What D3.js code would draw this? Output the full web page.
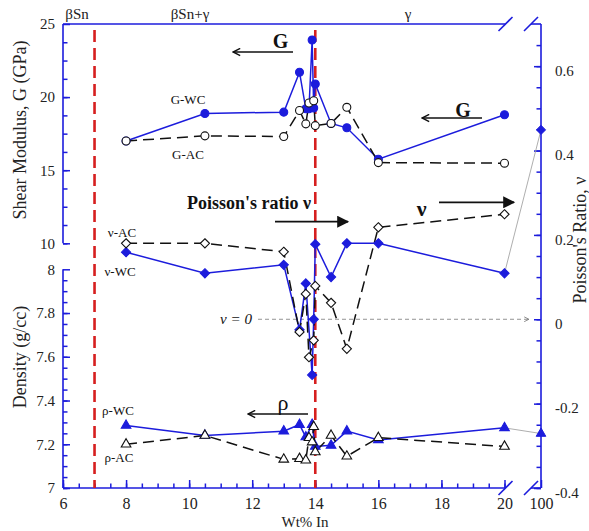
<!DOCTYPE html>
<meta charset="utf-8">
<script src="https://d3js.org/d3.v7.min.js"></script>
<head>
    <title>G, Poisson's ratio and density vs Wt% In</title>
    <style>
        body { margin: 0; background: #fff; }
    </style>
</head>
<body>
<div id="chart"></div>
<script>
    // ---- data ----
    // shear modulus (GPa)
    const gWcComp = [8, 10.5, 13, 13.5, 13.7, 13.8, 13.9, 13.95, 14, 14.5, 15, 16, 20];
    const gWcVal  = [17.0, 18.88, 18.97, 21.7, 19.2, 19.2, 23.9, 19.25, 20.9, 18.2, 17.9, 15.75, 18.79];
    const gAcComp = [8, 10.5, 13, 13.5, 13.7, 13.8, 13.95, 14, 14.5, 15, 16, 20];
    const gAcVal  = [17.0, 17.35, 17.3, 19.08, 18.17, 19.6, 19.75, 18.05, 18.2, 19.3, 15.52, 15.48];

    // poisson's ratio
    const nuWcComp = [8, 10.5, 13, 13.5, 13.7, 13.9, 13.95, 14, 14.5, 15, 16, 20];
    const nuWcVal  = [0.159, 0.109, 0.129, -0.025, 0.085, -0.132, 0.0, 0.178, 0.1, 0.18, 0.18, 0.109];
    const nuAcComp = [8, 10.5, 13, 13.5, 13.7, 13.8, 13.95, 14, 14.5, 15, 16, 20];
    const nuAcVal  = [0.18, 0.18, 0.16, -0.03, 0.06, -0.09, -0.05, 0.079, 0.039, -0.07, 0.218, 0.249];

    // density (g/cc)
    const rhoWcComp = [8, 10.5, 13, 13.5, 13.7, 13.9, 14, 14.5, 15, 16, 20];
    const rhoWcVal  = [7.286, 7.24, 7.26, 7.29, 7.233, 7.29, 7.19, 7.195, 7.26, 7.22, 7.275];
    const rhoAcComp = [8, 10.5, 13, 13.5, 13.7, 13.8, 13.9, 13.95, 14, 14.5, 15, 16, 20];
    const rhoAcVal  = [7.2, 7.24, 7.131, 7.134, 7.127, 7.23, 7.21, 7.28, 7.165, 7.24, 7.145, 7.23, 7.19];

    // pure In (100 wt%)
    const pureComp = [20, 100];
    const pureNu  = [0.109, 0.449];
    const pureRho = [7.275, 7.249];

    // phase boundaries and labels
    const phaseBounds = [7, 14];
    const phaseLabels = ["βSn", "βSn+γ", "γ"];

    // ticks
    const xTicks = [6, 8, 10, 12, 14, 16, 18, 20, 100];
    const xMinor = d3.range(6, 20.01, 0.5);
    const gTicks = [10, 15, 20, 25];
    const gMinor = d3.range(10, 25, 1.25);
    const rhoTicks = [7, 7.2, 7.4, 7.6, 7.8, 8];
    const rhoMinor = d3.range(7, 8, 0.05);
    const nuTicks = [-0.4, -0.2, 0, 0.2, 0.4, 0.6];
    const nuMinor = d3.range(-0.4, 0.7, 0.05);

    // ---- layout ----
    const width = 589, height = 531;
    const pl = 63, pr = 541, pt = 24, pb = 488;
    const blue = "#1c1cdc", red = "#d61f1f";
    const serif = "'Liberation Serif', 'Times New Roman', Tinos, 'DejaVu Serif', serif";

    const svg = d3.select("#chart")
        .append("svg")
        .attr("width", width)
        .attr("height", height)
        .attr("font-family", serif);

    const x = d3.scaleLinear().domain([6, 20, 100]).range([pl, 504.5, pr]);
    const yG = d3.scaleLinear().domain([10, 25]).range([243.3, pt]);
    const yRho = d3.scaleLinear().domain([7, 8]).range([pb, 269.3]);
    const yNu = d3.scaleLinear().domain([-0.4, 0.7]).range([pb, pt]);

    const defs = svg.append("defs");
    defs.append("marker").attr("id", "open")
        .attr("viewBox", "0 0 10 10").attr("refX", 9).attr("refY", 5)
        .attr("markerWidth", 9).attr("markerHeight", 9).attr("orient", "auto")
        .attr("markerUnits", "userSpaceOnUse")
        .append("path").attr("d", "M1,1 L9,5 L1,9").attr("fill", "none")
        .attr("stroke", "#111").attr("stroke-width", 1.6);
    defs.append("marker").attr("id", "solid")
        .attr("viewBox", "0 0 10 10").attr("refX", 9).attr("refY", 5)
        .attr("markerWidth", 14).attr("markerHeight", 12).attr("orient", "auto")
        .attr("markerUnits", "userSpaceOnUse")
        .append("path").attr("d", "M0,0 L10,5 L0,10 Z").attr("fill", "#111");
    defs.append("marker").attr("id", "small")
        .attr("viewBox", "0 0 10 10").attr("refX", 9).attr("refY", 5)
        .attr("markerWidth", 7).attr("markerHeight", 6).attr("orient", "auto")
        .attr("markerUnits", "userSpaceOnUse")
        .append("path").attr("d", "M1,1 L9,5 L1,9").attr("fill", "none")
        .attr("stroke", "#666").attr("stroke-width", 1.2);

    // ---- axes ----
    const styleAxis = (g, size) => {
        g.attr("font-family", serif).attr("font-size", size);
        g.select(".domain").remove();
        g.selectAll("line").attr("stroke", blue).attr("stroke-width", 1.5);
        g.selectAll("text").attr("fill", "#222");
    };
    const noLabel = () => "";
    const fmt = d => +d.toFixed(1);

    svg.append("g").attr("transform", `translate(${pl},0)`)
        .call(d3.axisLeft(yG).tickValues(gMinor).tickSize(-4.5).tickFormat(noLabel))
        .call(styleAxis, 15);
    svg.append("g").attr("transform", `translate(${pl},0)`)
        .call(d3.axisLeft(yG).tickValues(gTicks).tickSize(-7).tickPadding(8))
        .call(styleAxis, 15);
    svg.append("g").attr("transform", `translate(${pl},0)`)
        .call(d3.axisLeft(yRho).tickValues(rhoMinor).tickSize(-4.5).tickFormat(noLabel))
        .call(styleAxis, 15);
    svg.append("g").attr("transform", `translate(${pl},0)`)
        .call(d3.axisLeft(yRho).tickValues(rhoTicks).tickSize(-7).tickPadding(8).tickFormat(fmt))
        .call(styleAxis, 15);

    svg.append("g").attr("transform", `translate(${pr},0)`)
        .call(d3.axisRight(yNu).tickValues(nuMinor).tickSize(-4.5).tickFormat(noLabel))
        .call(styleAxis, 15);
    svg.append("g").attr("transform", `translate(${pr},0)`)
        .call(d3.axisRight(yNu).tickValues(nuTicks).tickSize(-7).tickPadding(14).tickFormat(fmt))
        .call(styleAxis, 15)
        .selectAll("text").attr("dy", "0.62em");

    svg.append("g").attr("transform", `translate(0,${pb})`)
        .call(d3.axisBottom(x).tickValues(xMinor).tickSize(-4.5).tickFormat(noLabel))
        .call(styleAxis, 16);
    svg.append("g").attr("transform", `translate(0,${pb})`)
        .call(d3.axisBottom(x).tickValues(xTicks).tickSize(-8).tickPadding(10))
        .call(styleAxis, 16);

    // frame with breaks
    const brk1 = x(20) + 1, brk2 = x(100) - 10;
    const frame = [
        [pl, yG(25), pl, yG(10)],
        [pl, yRho(8), pl, pb],
        [pl, pb, brk1, pb], [brk2, pb, pr, pb],
        [pl, pt, brk1, pt], [brk2, pt, pr, pt],
        [pr, pt, pr, pb],
        [brk1 - 7, pt + 7, brk1 + 7, pt - 7], [brk2 - 7, pt + 7, brk2 + 7, pt - 7],
        [brk1 - 7, pb + 7, brk1 + 7, pb - 7], [brk2 - 7, pb + 7, brk2 + 7, pb - 7]
    ];
    svg.append("g").selectAll("line")
        .data(frame)
        .join("line")
        .attr("x1", d => d[0]).attr("y1", d => d[1])
        .attr("x2", d => d[2]).attr("y2", d => d[3])
        .attr("stroke", blue).attr("stroke-width", 1.6);

    // phase boundaries
    svg.append("g").selectAll("line")
        .data(phaseBounds)
        .join("line")
        .attr("x1", d => x(d)).attr("x2", d => x(d))
        .attr("y1", pt + 6).attr("y2", pb)
        .attr("stroke", red).attr("stroke-width", 2.6)
        .attr("stroke-dasharray", "12,6");

    svg.append("g").selectAll("text")
        .data(phaseLabels)
        .join("text")
        .attr("x", (d, i) => [77, 190, 408][i])
        .attr("y", 14)
        .attr("text-anchor", "middle")
        .attr("dominant-baseline", "central")
        .attr("font-size", 15)
        .attr("fill", "#222")
        .text(d => d);

    // ν = 0 reference line
    svg.append("line")
        .attr("x1", 258).attr("x2", 529)
        .attr("y1", yNu(0)).attr("y2", yNu(0))
        .attr("stroke", "#777").attr("stroke-width", 0.8)
        .attr("stroke-dasharray", "4,3")
        .attr("marker-end", "url(#small)");

    // thin links to pure In
    [[pureNu, yNu], [pureRho, yRho]].forEach(([vals, ys]) => {
        svg.append("path")
            .attr("d", d3.line()(pureComp.map((c, i) => [x(c), ys(vals[i])])))
            .attr("fill", "none").attr("stroke", "#999").attr("stroke-width", 0.8);
    });

    // ---- series ----
    const diamond = {
        draw(ctx, size) {
            const r = Math.sqrt(size / 2);
            ctx.moveTo(0, -r); ctx.lineTo(r, 0); ctx.lineTo(0, r); ctx.lineTo(-r, 0); ctx.closePath();
        }
    };
    const symbols = {
        circle: d3.symbol().type(d3.symbolCircle).size(50)(),
        diamond: d3.symbol().type(diamond).size(42)(),
        triangle: d3.symbol().type(d3.symbolTriangle).size(40)()
    };

    const series = [
        {comp: gWcComp, val: gWcVal, y: yG, wc: true, sym: "circle"},
        {comp: nuWcComp, val: nuWcVal, y: yNu, wc: true, sym: "diamond"},
        {comp: rhoWcComp, val: rhoWcVal, y: yRho, wc: true, sym: "triangle"},
        {comp: gAcComp, val: gAcVal, y: yG, wc: false, sym: "circle"},
        {comp: nuAcComp, val: nuAcVal, y: yNu, wc: false, sym: "diamond"},
        {comp: rhoAcComp, val: rhoAcVal, y: yRho, wc: false, sym: "triangle"}
    ];

    series.forEach(s => {
        const pts = s.comp.map((c, i) => [x(c), s.y(s.val[i])]);
        svg.append("path")
            .attr("d", d3.line()(pts))
            .attr("fill", "none")
            .attr("stroke", s.wc ? blue : "#111")
            .attr("stroke-width", 1.5)
            .attr("stroke-dasharray", s.wc ? null : "11,6");
    });

    series.forEach(s => {
        svg.append("g").selectAll("path")
            .data(s.comp.map((c, i) => [x(c), s.y(s.val[i])]))
            .join("path")
            .attr("d", symbols[s.sym])
            .attr("transform", d => `translate(${d[0]},${d[1]})`)
            .attr("fill", s.wc ? blue : "#fff")
            .attr("stroke", s.wc ? blue : "#111")
            .attr("stroke-width", 1.1);
    });

    // pure In markers
    svg.append("path").attr("d", symbols.diamond)
        .attr("transform", `translate(${x(100)},${yNu(pureNu[1])})`)
        .attr("fill", blue).attr("stroke", blue);
    svg.append("path").attr("d", symbols.triangle)
        .attr("transform", `translate(${x(100)},${yRho(pureRho[1])})`)
        .attr("fill", blue).attr("stroke", blue);

    // ---- annotations ----
    const arrows = [
        [293, 52, 233, 52, "open", 1.4],
        [482, 118, 422, 118, "open", 1.4],
        [275, 221.7, 348, 221.7, "solid", 1.8],
        [439, 202.3, 514, 202.3, "solid", 1.8],
        [308, 414, 248, 414, "open", 1.4]
    ];
    svg.append("g").selectAll("line")
        .data(arrows)
        .join("line")
        .attr("x1", d => d[0]).attr("y1", d => d[1])
        .attr("x2", d => d[2]).attr("y2", d => d[3])
        .attr("stroke", "#111").attr("stroke-width", d => d[5])
        .attr("marker-end", d => `url(#${d[4]})`);

    const notes = [
        ["G", 280.5, 41, 20, "bold", "normal", "middle"],
        ["G", 463, 110, 20, "bold", "normal", "middle"],
        ["Poisson's ratio ν", 187, 203, 18, "bold", "normal", "start"],
        ["ν", 421.7, 208, 22, "bold", "normal", "middle"],
        ["ρ", 283, 402, 22, "normal", "normal", "middle"],
        ["G-WC", 188, 99, 13, "normal", "normal", "middle"],
        ["G-AC", 188, 154, 13, "normal", "normal", "middle"],
        ["ν-AC", 122, 232, 13, "normal", "normal", "middle"],
        ["ν-WC", 120, 271, 13, "normal", "normal", "middle"],
        ["ρ-WC", 118, 410.5, 13, "normal", "normal", "middle"],
        ["ρ-AC", 119, 457, 13, "normal", "normal", "middle"],
        ["ν = 0", 236, yNu(0), 15, "normal", "italic", "middle"]
    ];
    svg.append("g").selectAll("text")
        .data(notes)
        .join("text")
        .attr("x", d => d[1]).attr("y", d => d[2])
        .attr("font-size", d => d[3])
        .attr("font-weight", d => d[4])
        .attr("font-style", d => d[5])
        .attr("text-anchor", d => d[6])
        .attr("dominant-baseline", "central")
        .attr("fill", "#111")
        .text(d => d[0]);

    // axis titles
    const titles = [
        ["Shear Modulus, G (GPa)", 20, 130, -90],
        ["Density (g/cc)", 20, 357, -90],
        ["Poisson's Ratio, ν", 580, 240, -90],
        ["Wt% In", 305, 522, 0]
    ];
    svg.append("g").selectAll("text")
        .data(titles)
        .join("text")
        .attr("transform", d => `translate(${d[1]},${d[2]}) rotate(${d[3]})`)
        .attr("text-anchor", "middle")
        .attr("dominant-baseline", "central")
        .attr("font-size", (d, i) => i === 3 ? 15 : 18)
        .attr("fill", "#222")
        .text(d => d[0]);
</script>
</body>
